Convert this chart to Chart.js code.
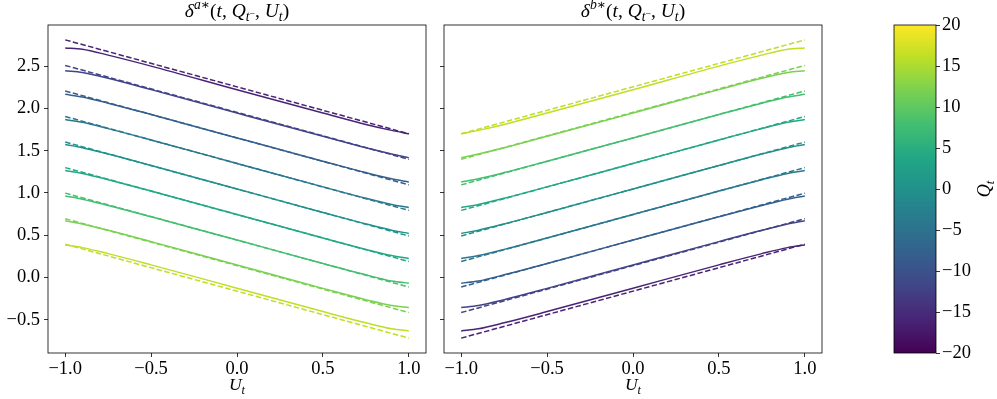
<!DOCTYPE html>
<html>
<head>
<meta charset="utf-8">
<script src="https://cdn.jsdelivr.net/npm/chart.js@4.4.1/dist/chart.umd.min.js"></script>
<style>
  body { margin: 0; background: #fff; }
  #wrap { position: relative; width: 997px; height: 399px; }
  #wrap canvas { position: absolute; top: 0; }
</style>
</head>
<body>
<div id="wrap">
  <canvas id="askChart" style="left:0px" width="430" height="399"></canvas>
  <canvas id="bidChart" style="left:430px" width="400" height="399"></canvas>
  <canvas id="barChart" style="left:850px" width="147" height="399"></canvas>
</div>
<script>
// inventory levels drawn (one curve per level)
var inventory = [-16, -12, -8, -4, 0, 4, 8, 12, 16];
var uGrid = [-1, -0.9, -0.75, -0.5, 0, 0.5, 0.75, 0.9, 1];
var uEnds = [-1, 1];

// solid curves, ask side, one row per inventory level
var askExact = [
    [2.715, 2.700, 2.630, 2.500, 2.220, 1.945, 1.810, 1.740, 1.700],
    [2.445, 2.425, 2.356, 2.222, 1.945, 1.670, 1.535, 1.462, 1.418],
    [2.166, 2.135, 2.062, 1.928, 1.651, 1.376, 1.241, 1.168, 1.131],
    [1.869, 1.835, 1.761, 1.627, 1.349, 1.072, 0.937, 0.864, 0.829],
    [1.572, 1.535, 1.460, 1.325, 1.047, 0.770, 0.634, 0.560, 0.522],
    [1.265, 1.231, 1.157, 1.023, 0.745, 0.468, 0.333, 0.260, 0.225],
    [0.963, 0.927, 0.853, 0.719, 0.443, 0.167, 0.032, -0.041, -0.067],
    [0.671, 0.633, 0.559, 0.425, 0.149, -0.128, -0.262, -0.331, -0.354],
    [0.384, 0.354, 0.283, 0.150, -0.126, -0.402, -0.535, -0.606, -0.631]
];
// dashed straight lines, ask side (value at U=-1 and U=1)
var askApprox = [
    [2.810, 1.700], [2.508, 1.398], [2.206, 1.096], [1.904, 0.794], [1.602, 0.492],
    [1.300, 0.190], [0.998, -0.112], [0.696, -0.414], [0.394, -0.716]
];
// solid curves, bid side
var bidExact = [
    [-0.631, -0.606, -0.535, -0.402, -0.126, 0.150, 0.283, 0.354, 0.384],
    [-0.354, -0.331, -0.262, -0.128, 0.149, 0.425, 0.559, 0.633, 0.671],
    [-0.067, -0.041, 0.032, 0.167, 0.443, 0.719, 0.853, 0.927, 0.963],
    [0.225, 0.260, 0.333, 0.468, 0.745, 1.023, 1.157, 1.231, 1.265],
    [0.522, 0.560, 0.634, 0.770, 1.047, 1.325, 1.460, 1.535, 1.572],
    [0.829, 0.864, 0.937, 1.072, 1.349, 1.627, 1.761, 1.835, 1.869],
    [1.131, 1.168, 1.241, 1.376, 1.651, 1.928, 2.062, 2.135, 2.166],
    [1.418, 1.462, 1.535, 1.670, 1.945, 2.222, 2.356, 2.425, 2.445],
    [1.700, 1.740, 1.810, 1.945, 2.220, 2.500, 2.630, 2.700, 2.715]
];
var bidApprox = [
    [-0.716, 0.394], [-0.414, 0.696], [-0.112, 0.998], [0.190, 1.300], [0.492, 1.602],
    [0.794, 1.904], [1.096, 2.206], [1.398, 2.508], [1.700, 2.810]
];

var xTicks = [-1, -0.5, 0, 0.5, 1];
var yTicks = [-0.5, 0, 0.5, 1, 1.5, 2, 2.5];
var qTicks = [-20, -15, -10, -5, 0, 5, 10, 15, 20];

// viridis at 0, 0.1, ... 1
var viridis = ['#440154', '#482475', '#414487', '#355f8d', '#2a788e', '#21918c',
               '#22a884', '#44bf70', '#7ad151', '#bddf26', '#fde725'];

function hexRgb(h) {
    return [parseInt(h.substr(1, 2), 16), parseInt(h.substr(3, 2), 16), parseInt(h.substr(5, 2), 16)];
}
function cmap(t) {
    var p = Math.max(0, Math.min(1, t)) * 10;
    var i = Math.min(9, Math.floor(p)), f = p - i;
    var a = hexRgb(viridis[i]), b = hexRgb(viridis[i + 1]);
    var c = a.map(function (v, k) { return Math.round(v + (b[k] - v) * f); });
    return 'rgb(' + c.join(',') + ')';
}
function qColor(q) { return cmap((q + 20) / 40); }

function fmt(v, d) {
    return v.toFixed(d).replace('-', '\u2212');
}

var SERIF = '"Liberation Serif", "DejaVu Serif", serif';
Chart.defaults.font.family = SERIF;
Chart.defaults.font.size = 18.5;
Chart.defaults.color = '#000';

// draws a list of [text, italic, scale, dy] pieces centred on x
function drawMath(ctx, parts, x, y, size) {
    var w = 0;
    parts.forEach(function (p) {
        ctx.font = (p[1] ? 'italic ' : '') + (size * p[2]) + 'px ' + SERIF;
        w += ctx.measureText(p[0]).width;
    });
    var cx = x - w / 2;
    ctx.textAlign = 'left';
    ctx.textBaseline = 'alphabetic';
    ctx.fillStyle = '#000';
    parts.forEach(function (p) {
        ctx.font = (p[1] ? 'italic ' : '') + (size * p[2]) + 'px ' + SERIF;
        ctx.fillText(p[0], cx, y + p[3] * size);
        cx += ctx.measureText(p[0]).width;
    });
}

function titleParts(side) {
    return [['\u03b4', true, 1, 0], [side, true, 0.7, -0.42], ['\u2217', false, 0.7, -0.42],
            ['(', false, 1, 0], ['t', true, 1, 0], [', ', false, 1, 0], ['Q', true, 1, 0],
            ['t', true, 0.7, 0.22], ['\u2212', false, 0.5, -0.02], [', ', false, 1, 0],
            ['U', true, 1, 0], ['t', true, 0.7, 0.22], [')', false, 1, 0]];
}
var uLabel = [['U', true, 1, 0], ['t', true, 0.7, 0.22]];

var boxPlugin = {
    id: 'box',
    afterDraw: function (chart) {
        var a = chart.chartArea, ctx = chart.ctx;
        ctx.save();
        ctx.strokeStyle = '#000';
        ctx.lineWidth = 0.8;
        ctx.strokeRect(a.left, a.top, a.right - a.left, a.bottom - a.top);
        ctx.restore();
    }
};

function panelDatasets(exact, approx) {
    var sets = [];
    inventory.forEach(function (q, i) {
        sets.push({
            data: uGrid.map(function (u, j) { return { x: u, y: exact[i][j] }; }),
            borderColor: qColor(q), borderWidth: 1.5, pointRadius: 0,
            cubicInterpolationMode: 'monotone', fill: false
        });
        sets.push({
            data: uEnds.map(function (u, j) { return { x: u, y: approx[i][j] }; }),
            borderColor: qColor(q), borderWidth: 1.5, pointRadius: 0,
            borderDash: [5.5, 2.4], fill: false
        });
    });
    return sets;
}

function panel(id, exact, approx, side, showY, yWidth, padRight) {
    return new Chart(document.getElementById(id).getContext('2d'), {
        type: 'line',
        data: { datasets: panelDatasets(exact, approx) },
        options: {
            responsive: false,
            animation: false,
            layout: { padding: { top: 25, right: padRight, bottom: 0, left: 0 } },
            plugins: { legend: { display: false }, tooltip: { enabled: false } },
            scales: {
                x: {
                    type: 'linear', min: -1.1, max: 1.1,
                    afterBuildTicks: function (s) { s.ticks = xTicks.map(function (v) { return { value: v }; }); },
                    afterFit: function (s) { s.height = 46; },
                    ticks: { padding: 1, maxRotation: 0, callback: function (v) { return fmt(v, 1); } },
                    grid: { drawOnChartArea: false, tickLength: 4, color: '#000', lineWidth: 0.8 },
                    border: { display: false }
                },
                y: {
                    type: 'linear', min: -0.892, max: 2.986,
                    afterBuildTicks: function (s) { s.ticks = yTicks.map(function (v) { return { value: v }; }); },
                    afterFit: function (s) { s.width = yWidth; },
                    ticks: { padding: 4, callback: function (v) { return showY ? fmt(v, 1) : ''; } },
                    grid: { drawOnChartArea: false, tickLength: 4, color: '#000', lineWidth: 0.8 },
                    border: { display: false }
                }
            }
        },
        plugins: [boxPlugin, {
            id: 'labels',
            afterDraw: function (chart) {
                var a = chart.chartArea, ctx = chart.ctx, mid = (a.left + a.right) / 2;
                ctx.save();
                drawMath(ctx, titleParts(side), mid, 17, 19.5);
                drawMath(ctx, uLabel, mid, 390, 17.5);
                ctx.restore();
            }
        }]
    });
}

var askChart = panel('askChart', askExact, askApprox, 'a', true, 48, 4);
var bidChart = panel('bidChart', bidExact, bidApprox, 'b', false, 14, 8);

var barChart = new Chart(document.getElementById('barChart').getContext('2d'), {
    type: 'bar',
    data: {
        labels: [''],
        datasets: [{
            data: [[qTicks[0], qTicks[qTicks.length - 1]]],
            barPercentage: 1, categoryPercentage: 1, borderWidth: 0,
            backgroundColor: function (c) {
                var a = c.chart.chartArea;
                if (!a) return '#888';
                var g = c.chart.ctx.createLinearGradient(0, a.bottom, 0, a.top);
                viridis.forEach(function (col, i) { g.addColorStop(i / 10, col); });
                return g;
            }
        }]
    },
    options: {
        responsive: false,
        animation: false,
        layout: { padding: { top: 25, right: 0, bottom: 46, left: 44 } },
        plugins: { legend: { display: false }, tooltip: { enabled: false } },
        scales: {
            x: { display: false },
            y: {
                position: 'right', min: -20, max: 20,
                afterBuildTicks: function (s) { s.ticks = qTicks.map(function (v) { return { value: v }; }); },
                afterFit: function (s) { s.width = 61; },
                ticks: { padding: 2, callback: function (v) { return fmt(v, 0); } },
                grid: { drawOnChartArea: false, tickLength: 4, color: '#000', lineWidth: 0.8 },
                border: { display: false }
            }
        }
    },
    plugins: [boxPlugin, {
        id: 'cbLabel',
        afterDraw: function (chart) {
            var ctx = chart.ctx;
            ctx.save();
            ctx.translate(140, 189);
            ctx.rotate(-Math.PI / 2);
            drawMath(ctx, [['Q', true, 1, 0], ['t', true, 0.7, 0.22]], 0, 0, 18);
            ctx.restore();
        }
    }]
});
</script>
</body>
</html>
